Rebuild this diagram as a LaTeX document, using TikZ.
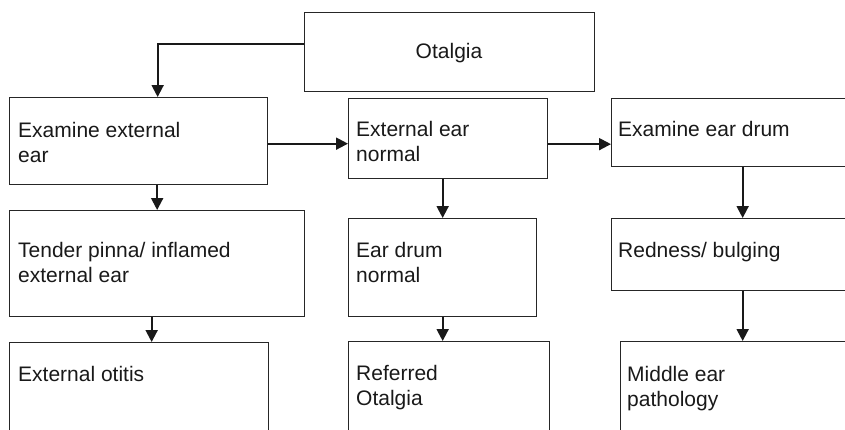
\documentclass[tikz,border=0pt]{standalone}
\usepackage{fontspec}
\setmainfont{Liberation Sans}
\usetikzlibrary{arrows.meta,calc}
\newcommand\twoline[2]{\vtop{\hbox{#1}\hbox{#2}}}
\begin{document}
\begin{tikzpicture}[x=1pt,y=-1pt,
  box/.style={draw=black!85,line width=1.3pt,inner sep=0pt,anchor=north west},
  lbl/.style={anchor=base west,inner sep=0pt,font=\fontsize{21}{25.5}\selectfont,text=black!90},
  arr/.style={draw=black!90,line width=2pt,-{Triangle[length=12pt,width=12pt]}}]
\useasboundingbox (0,0) rectangle (845,429);
\clip (0,0) rectangle (845,429);
% boxes
\node[box,minimum width=290pt,minimum height=79pt] (otalgia) at (304,12) {};
\node[box,minimum width=258pt,minimum height=87pt] (examine) at (9,97) {};
\node[box,minimum width=199pt,minimum height=80pt] (extnormal) at (348,98) {};
\node[box,minimum width=262pt,minimum height=68pt] (examdrum) at (611,98) {};
\node[box,minimum width=295pt,minimum height=106pt] (tender) at (9,210) {};
\node[box,minimum width=188pt,minimum height=98pt] (drumnormal) at (348,218) {};
\node[box,minimum width=262pt,minimum height=72pt] (redness) at (611,218) {};
\node[box,minimum width=259pt,minimum height=110pt] (extotitis) at (9,342) {};
\node[box,minimum width=201pt,minimum height=110pt] (referred) at (348,341) {};
\node[box,minimum width=244pt,minimum height=110pt] (middle) at (620,341) {};
% labels
\node[lbl,anchor=base] (t0) at (449,58) {Otalgia};
\node[lbl] (t1) at (18,137) {\twoline{Examine external}{ear}};
\node[lbl] (t2) at (356,136) {\twoline{External ear}{normal}};
\node[lbl] (t3) at (618,136) {Examine ear drum};
\node[lbl] (t4) at (18,257) {\twoline{Tender pinna/ inflamed}{external ear}};
\node[lbl] (t5) at (356,257) {\twoline{Ear drum}{normal}};
\node[lbl] (t6) at (618,257) {Redness/ bulging};
\node[lbl] (t7) at (18,381) {External otitis};
\node[lbl] (t8) at (356,380) {\twoline{Referred}{Otalgia}};
\node[lbl] (t9) at (627,381) {\twoline{Middle ear}{pathology}};
% connectors
\draw[arr] ($(otalgia.west)+(0,-8.5)$) -| ($(examine.north)+(19,0)$);
\draw[arr] ($(examine.east)+(0,2.5)$) -- ($(examine.east -| extnormal.west)+(0,2.5)$);
\draw[arr] ($(extnormal.east)+(0,5.5)$) -- ($(extnormal.east -| examdrum.west)+(0,5.5)$);
\draw[arr] (tender.north |- examine.south) -- (tender.north);
\draw[arr] (drumnormal.north |- extnormal.south) -- (drumnormal.north);
\draw[arr] (examdrum.south) -- (redness.north);
\draw[arr] ($(tender.south)+(-5.5,0)$) coordinate (a7) -- (a7 |- extotitis.north);
\draw[arr] (drumnormal.south) -- (drumnormal.south |- referred.north);
\draw[arr] (redness.south) -- (middle.north);
\end{tikzpicture}
\end{document}
